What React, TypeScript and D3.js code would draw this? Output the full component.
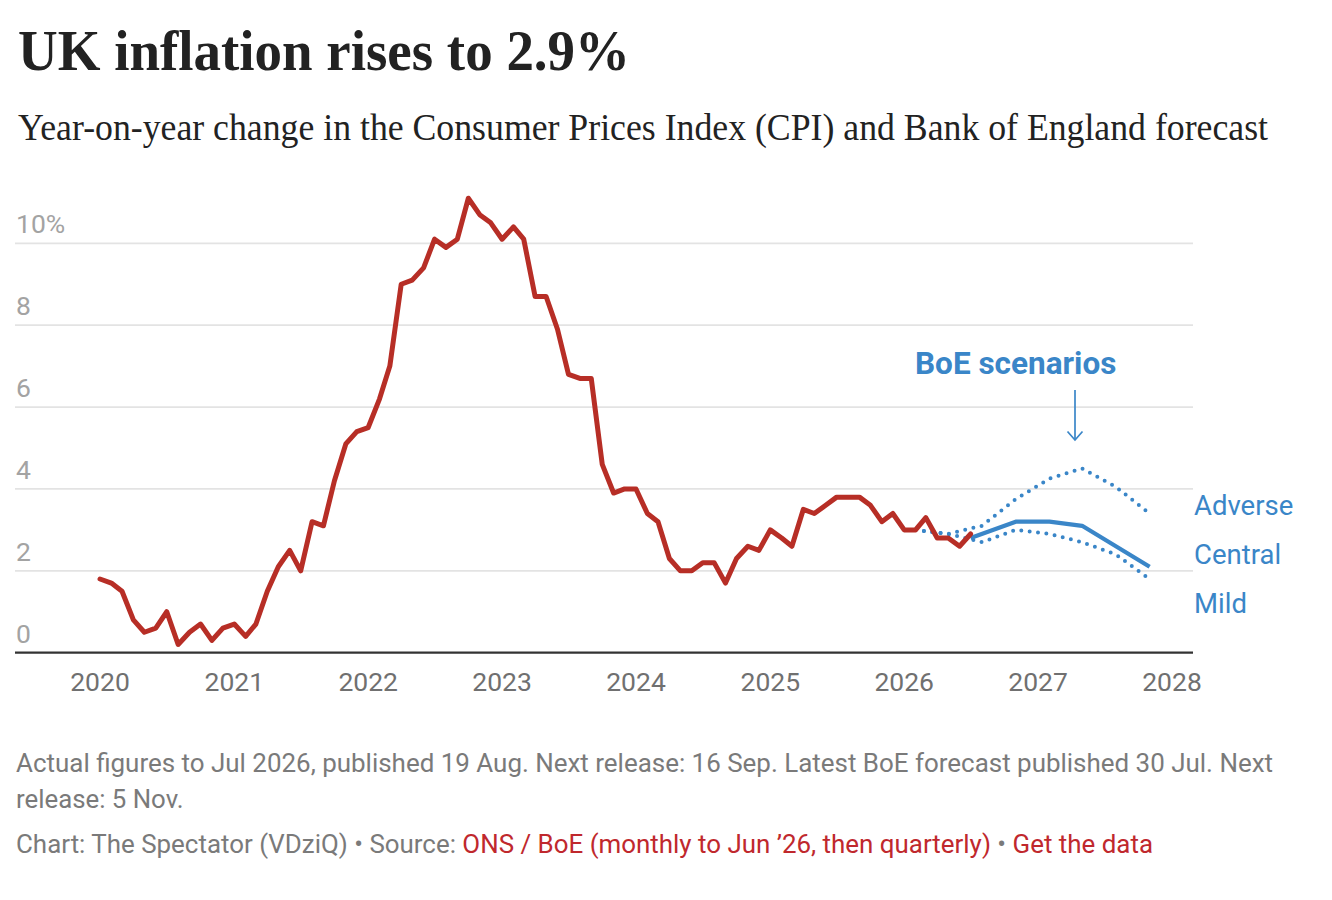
import React from "react";
import * as d3 from "d3";

// ---- Data ----
const cpiStart = new Date(2020, 0, 1); // Jan 2020, monthly
const cpiValues = [
  // 2020
  1.8, 1.7, 1.5, 0.8, 0.5, 0.6, 1.0, 0.2, 0.5, 0.7, 0.3, 0.6,
  // 2021
  0.7, 0.4, 0.7, 1.5, 2.1, 2.5, 2.0, 3.2, 3.1, 4.2, 5.1, 5.4,
  // 2022
  5.5, 6.2, 7.0, 9.0, 9.1, 9.4, 10.1, 9.9, 10.1, 11.1, 10.7, 10.5,
  // 2023
  10.1, 10.4, 10.1, 8.7, 8.7, 7.9, 6.8, 6.7, 6.7, 4.6, 3.9, 4.0,
  // 2024
  4.0, 3.4, 3.2, 2.3, 2.0, 2.0, 2.2, 2.2, 1.7, 2.3, 2.6, 2.5,
  // 2025
  3.0, 2.8, 2.6, 3.5, 3.4, 3.6, 3.8, 3.8, 3.8, 3.6, 3.2, 3.4,
  // 2026 (to Jul)
  3.0, 3.0, 3.3, 2.8, 2.8, 2.6, 2.9,
];

const scenarioDates = ["2026-02", "2026-05", "2026-08", "2026-11", "2027-02", "2027-05", "2027-08", "2027-11"];
const adverseValues = [3.0, 2.9, 3.1, 3.75, 4.25, 4.5, 4.05, 3.4];
const mildValues = [3.0, 2.9, 2.7, 3.0, 2.9, 2.7, 2.4, 1.8];
const centralDates = ["2026-07", "2026-11", "2027-02", "2027-05", "2027-08", "2027-11"];
const centralValues = [2.8, 3.2, 3.2, 3.1, 2.6, 2.1];

const yTicks = [0, 2, 4, 6, 8, 10];
const yearTicks = [2020, 2021, 2022, 2023, 2024, 2025, 2026, 2027, 2028];

const scenarioLabels = ["Adverse", "Central", "Mild"];

const titleText = "UK inflation rises to 2.9%";
const subtitleText = "Year-on-year change in the Consumer Prices Index (CPI) and Bank of England forecast";
const noteLine1 = "Actual figures to Jul 2026, published 19 Aug. Next release: 16 Sep. Latest BoE forecast published 30 Jul. Next";
const noteLine2 = "release: 5 Nov.";

// ---- Styles ----
const RED = "#b72e26";
const BLUE = "#3a86c8";
const SANS = "Roboto, 'Noto Sans', sans-serif";
const SERIF = "'Liberation Serif', 'DejaVu Serif', serif";

const parseMonth = d3.timeParse("%Y-%m");

export default function App() {
  const W = 1332;
  const H = 900;

  const x = d3
    .scaleTime()
    .domain([new Date(2020, 0, 1), new Date(2028, 0, 1)])
    .range([100, 1172]);
  const y = d3.scaleLinear().domain([0, 10]).range([652.7, 243.3]);

  const cpi = cpiValues.map((v, i) => ({ date: d3.timeMonth.offset(cpiStart, i), v }));
  const adverse = scenarioDates.map((d, i) => ({ date: parseMonth(d)!, v: adverseValues[i] }));
  const mild = scenarioDates.map((d, i) => ({ date: parseMonth(d)!, v: mildValues[i] }));
  const central = centralDates.map((d, i) => ({ date: parseMonth(d)!, v: centralValues[i] }));

  const line = d3
    .line<{ date: Date; v: number }>()
    .x((d) => x(d.date))
    .y((d) => y(d.v));

  const gridX1 = 15;
  const gridX2 = 1193;

  const labelX = 1194;
  const labelYs = [515, 564, 613];

  const arrowX = 1075;

  return (
    <div style={{ position: "absolute", left: 0, top: 0, width: W, height: H, background: "#fff" }}>
      <svg width={W} height={H} viewBox={`0 0 ${W} ${H}`} style={{ display: "block" }}>
        <rect x={0} y={0} width={W} height={H} fill="#fff" />

        {/* Title & subtitle */}
        <text
          x={18}
          y={70}
          fontFamily={SERIF}
          fontWeight={700}
          fontSize={57}
          fill="#222"
          textLength={612}
          lengthAdjust="spacingAndGlyphs"
        >
          {titleText}
        </text>
        <text
          x={18}
          y={140}
          fontFamily={SERIF}
          fontSize={37}
          fill="#222"
          textLength={1250}
          lengthAdjust="spacingAndGlyphs"
        >
          {subtitleText}
        </text>

        {/* Gridlines */}
        {yTicks
          .filter((t) => t !== 0)
          .map((t) => (
            <line key={t} x1={gridX1} x2={gridX2} y1={y(t)} y2={y(t)} stroke="#e3e3e3" strokeWidth={1.7} />
          ))}

        {/* Y labels */}
        {yTicks.map((t) => (
          <text key={t} x={16} y={y(t) - 10} fontFamily={SANS} fontSize={26.5} fill="#a3a3a3">
            {t === 10 ? "10%" : String(t)}
          </text>
        ))}

        {/* Baseline */}
        <line x1={gridX1} x2={gridX2} y1={y(0)} y2={y(0)} stroke="#333" strokeWidth={2.2} />

        {/* X labels */}
        {yearTicks.map((yr) => (
          <text
            key={yr}
            x={x(new Date(yr, 0, 1))}
            y={691}
            textAnchor="middle"
            fontFamily={SANS}
            fontSize={26.5}
            fill="#707070"
          >
            {yr}
          </text>
        ))}

        {/* Scenario lines */}
        <path
          d={line(adverse) || ""}
          fill="none"
          stroke={BLUE}
          strokeWidth={4}
          strokeDasharray="0 8.4"
          strokeLinecap="round"
        />
        <path
          d={line(mild) || ""}
          fill="none"
          stroke={BLUE}
          strokeWidth={4}
          strokeDasharray="0 8.4"
          strokeLinecap="round"
        />
        <path
          d={line(central) || ""}
          fill="none"
          stroke={BLUE}
          strokeWidth={4.3}
          strokeLinejoin="round"
        />

        {/* CPI line */}
        <path
          d={line(cpi) || ""}
          fill="none"
          stroke={RED}
          strokeWidth={5}
          strokeLinejoin="round"
          strokeLinecap="round"
        />

        {/* Scenario labels */}
        {scenarioLabels.map((s, i) => (
          <text key={s} x={labelX} y={labelYs[i]} fontFamily={SANS} fontSize={27.5} fill={BLUE}>
            {s}
          </text>
        ))}

        {/* Annotation */}
        <text x={915} y={374} fontFamily={SANS} fontWeight={700} fontSize={31.5} fill={BLUE}>
          BoE scenarios
        </text>
        <line x1={arrowX} x2={arrowX} y1={390} y2={440} stroke={BLUE} strokeWidth={1.7} />
        <polyline
          points={`${arrowX - 7.5},${431.5} ${arrowX},${440} ${arrowX + 7.5},${431.5}`}
          fill="none"
          stroke={BLUE}
          strokeWidth={1.7}
        />

        {/* Notes */}
        <text x={16} y={772} fontFamily={SANS} fontSize={25.8} fill="#7a7a7a" textLength={1257} lengthAdjust="spacingAndGlyphs">
          {noteLine1}
        </text>
        <text x={16} y={808} fontFamily={SANS} fontSize={25.8} fill="#7a7a7a">
          {noteLine2}
        </text>
        <text x={16} y={853} fontFamily={SANS} fontSize={25.8} fill="#7a7a7a" textLength={1137} lengthAdjust="spacingAndGlyphs">
          <tspan>Chart: The Spectator (VDziQ) • Source: </tspan>
          <tspan fill="#c0282d">ONS / BoE (monthly to Jun ’26, then quarterly)</tspan>
          <tspan> • </tspan>
          <tspan fill="#c0282d">Get the data</tspan>
        </text>
      </svg>
    </div>
  );
}
